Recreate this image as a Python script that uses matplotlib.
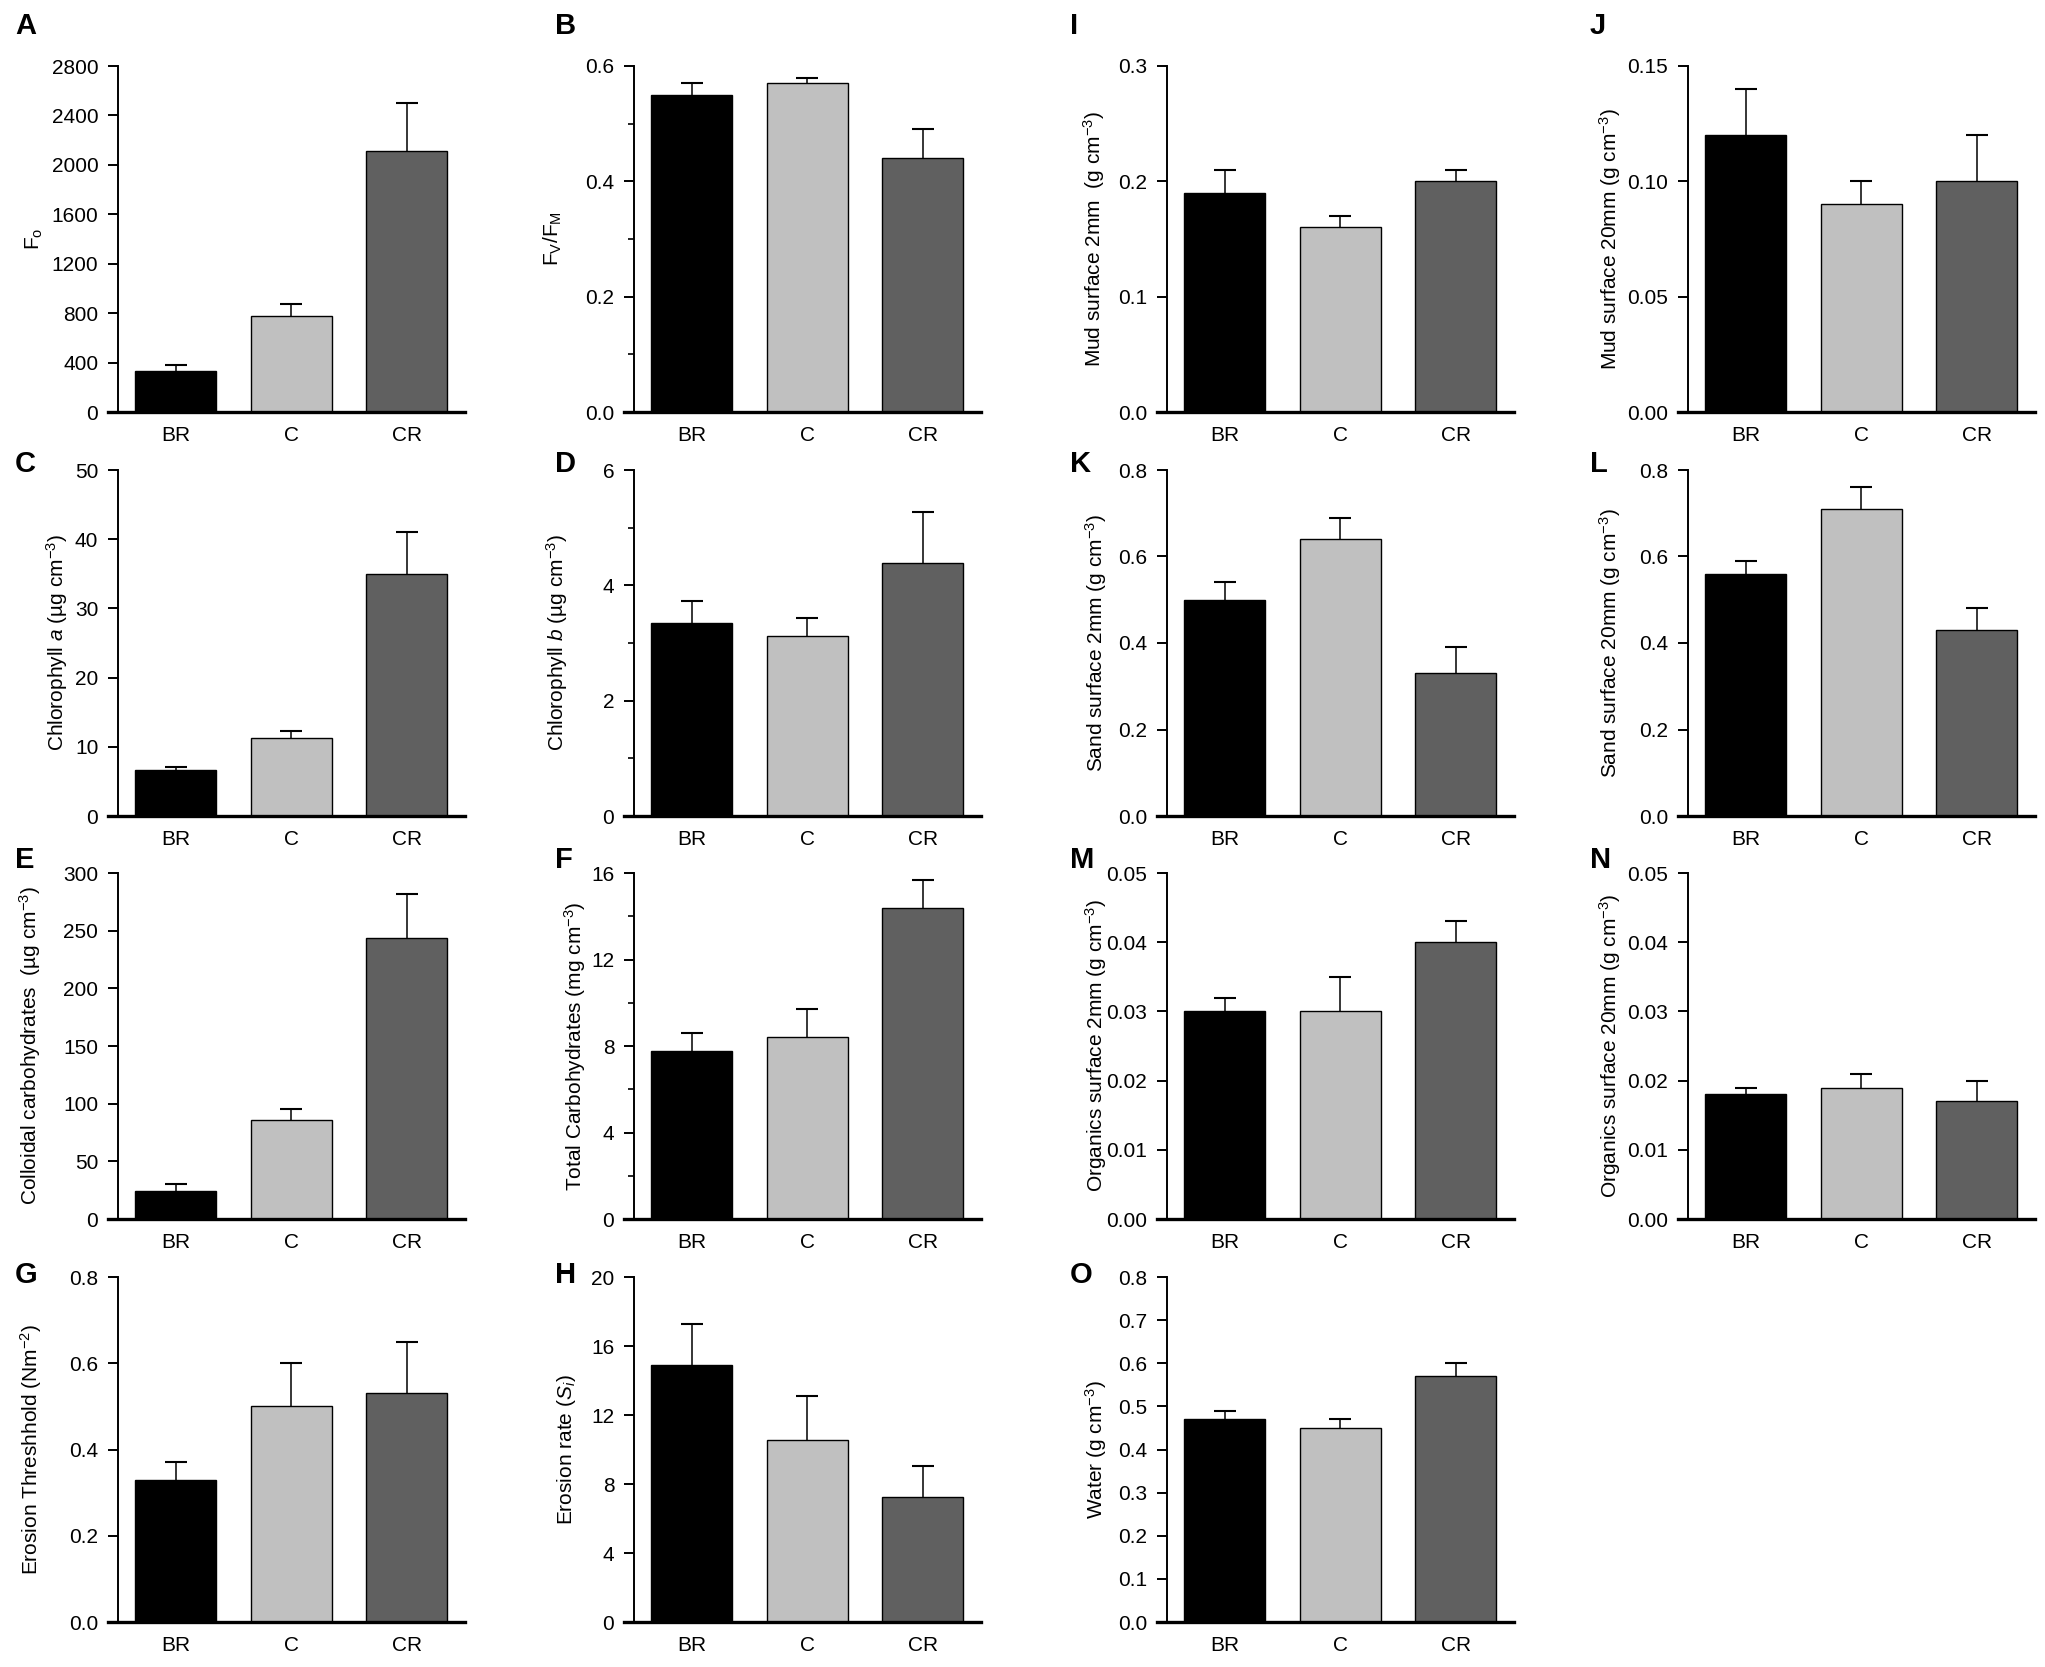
import matplotlib
matplotlib.use("Agg")
import matplotlib.pyplot as plt
import numpy as np
from matplotlib.ticker import MultipleLocator, FormatStrFormatter

plt.rcParams['font.family'] = ['Liberation Sans', 'DejaVu Sans']
plt.rcParams['mathtext.fontset'] = 'custom'
plt.rcParams['mathtext.rm'] = 'Liberation Sans'
plt.rcParams['mathtext.it'] = 'Liberation Sans:italic'
plt.rcParams['mathtext.bf'] = 'Liberation Sans:bold'

categories = ["BR", "C", "CR"]
bar_colors = ["#000000", "#c0c0c0", "#606060"]

# mean values and upper error-bar tops (mean + SE)
A_mean = [330, 780, 2110];      A_top = [380, 870, 2500]
B_mean = [0.55, 0.57, 0.44];    B_top = [0.57, 0.58, 0.49]
C_mean = [6.6, 11.3, 35.0];     C_top = [7.1, 12.3, 41.1]
D_mean = [3.34, 3.12, 4.38];    D_top = [3.73, 3.43, 5.27]
E_mean = [24.5, 86, 244];       E_top = [30.5, 95.5, 282]
F_mean = [7.75, 8.42, 14.37];   F_top = [8.61, 9.71, 15.69]
G_mean = [0.33, 0.50, 0.53];    G_top = [0.37, 0.60, 0.65]
H_mean = [14.92, 10.55, 7.25];  H_top = [17.29, 13.12, 9.04]
I_mean = [0.19, 0.16, 0.20];    I_top = [0.21, 0.17, 0.21]
J_mean = [0.12, 0.09, 0.10];    J_top = [0.14, 0.10, 0.12]
K_mean = [0.50, 0.64, 0.33];    K_top = [0.54, 0.69, 0.39]
L_mean = [0.56, 0.71, 0.43];    L_top = [0.59, 0.76, 0.48]
M_mean = [0.030, 0.030, 0.040]; M_top = [0.032, 0.035, 0.043]
N_mean = [0.018, 0.019, 0.017]; N_top = [0.019, 0.021, 0.020]
O_mean = [0.47, 0.45, 0.57];    O_top = [0.49, 0.47, 0.60]

ylabels = {
    "A": r"$\mathregular{F_o}$",
    "B": r"$\mathregular{F_V/F_M}$",
    "C": r"Chlorophyll $\mathit{a}$ (µg cm$^{-3}$)",
    "D": r"Chlorophyll $\mathit{b}$ (µg cm$^{-3}$)",
    "E": r"Colloidal carbohydrates  (µg cm$^{-3}$)",
    "F": r"Total Carbohydrates (mg cm$^{-3}$)",
    "G": r"Erosion Threshhold (Nm$^{-2}$)",
    "H": r"Erosion rate ($\mathit{S_i}$)",
    "I": r"Mud surface 2mm  (g cm$^{-3}$)",
    "J": r"Mud surface 20mm (g cm$^{-3}$)",
    "K": r"Sand surface 2mm (g cm$^{-3}$)",
    "L": r"Sand surface 20mm (g cm$^{-3}$)",
    "M": r"Organics surface 2mm (g cm$^{-3}$)",
    "N": r"Organics surface 20mm (g cm$^{-3}$)",
    "O": r"Water (g cm$^{-3}$)",
}

# ymax, major step, minor step (None), tick format
yaxes = {
    "A": (2800, 400, None, "%d"),
    "B": (0.6, 0.2, 0.1, "%.1f"),
    "C": (50, 10, None, "%d"),
    "D": (6, 2, 1, "%d"),
    "E": (300, 50, None, "%d"),
    "F": (16, 4, 2, "%d"),
    "G": (0.8, 0.2, None, "%.1f"),
    "H": (20, 4, None, "%d"),
    "I": (0.3, 0.1, None, "%.1f"),
    "J": (0.15, 0.05, None, "%.2f"),
    "K": (0.8, 0.2, None, "%.1f"),
    "L": (0.8, 0.2, None, "%.1f"),
    "M": (0.05, 0.01, None, "%.2f"),
    "N": (0.05, 0.01, None, "%.2f"),
    "O": (0.8, 0.1, None, "%.1f"),
}

data = {
    "A": (A_mean, A_top), "B": (B_mean, B_top), "C": (C_mean, C_top),
    "D": (D_mean, D_top), "E": (E_mean, E_top), "F": (F_mean, F_top),
    "G": (G_mean, G_top), "H": (H_mean, H_top), "I": (I_mean, I_top),
    "J": (J_mean, J_top), "K": (K_mean, K_top), "L": (L_mean, L_top),
    "M": (M_mean, M_top), "N": (N_mean, N_top), "O": (O_mean, O_top),
}

# layout in pixels
W, H = 2045, 1667
col_spine = [118, 634, 1167, 1688]
row_tb = [(66, 412), (470, 816), (873, 1219), (1277, 1622)]
layout = [["A", "B", "I", "J"],
          ["C", "D", "K", "L"],
          ["E", "F", "M", "N"],
          ["G", "H", "O", None]]
unit = 115.5
xlo, xhi = -0.584, 2.5
ax_w = (xhi - xlo) * unit

label_x = {"A": 34, "B": 553, "C": 57, "D": 557, "E": 30, "F": 575, "G": 31,
           "H": 567, "I": 1094, "J": 1610, "K": 1096, "L": 1610, "M": 1096,
           "N": 1610, "O": 1096}
letter_x = [15, 555, 1070, 1590]
letter_base = [34, 472, 868, 1283]

fig = plt.figure(figsize=(W / 100, H / 100), dpi=100)

for r, row in enumerate(layout):
    for c, key in enumerate(row):
        if key is None:
            continue
        top, bot = row_tb[r]
        left_px = col_spine[c] - (-0.5 - xlo) * unit
        ax = fig.add_axes([left_px / W, 1 - bot / H, ax_w / W, (bot - top) / H])
        mean, topv = data[key]
        mean = np.array(mean, float)
        err = np.array(topv, float) - mean
        x = np.arange(len(categories))
        ax.bar(x, mean, width=0.7, color=bar_colors, edgecolor="black",
               linewidth=1.0, zorder=2)
        _, caps, _ = ax.errorbar(x, mean, yerr=[np.zeros_like(err), err], fmt="none",
                                 ecolor="black", elinewidth=1.1, capsize=8,
                                 capthick=1.5, zorder=3)
        caps[0].set_visible(False)
        ymax, step, mstep, fmt = yaxes[key]
        ax.set_ylim(0, ymax)
        ax.set_xlim(xlo, xhi)
        ax.yaxis.set_major_locator(MultipleLocator(step))
        ax.yaxis.set_major_formatter(FormatStrFormatter(fmt))
        if mstep is not None:
            ax.yaxis.set_minor_locator(MultipleLocator(mstep))
        ax.set_xticks(x)
        ax.set_xticklabels(categories)
        ax.spines["top"].set_visible(False)
        ax.spines["right"].set_visible(False)
        ax.spines["left"].set_position(("data", -0.5))
        ax.spines["left"].set_linewidth(1.4)
        ax.spines["bottom"].set_linewidth(2.4)
        ax.spines["bottom"].set_zorder(4)
        ax.tick_params(axis="y", which="major", direction="out", length=7.2,
                       width=1.4, pad=7, labelsize=15)
        ax.tick_params(axis="y", which="minor", direction="out", length=4.5,
                       width=1.2)
        ax.tick_params(axis="x", length=0, pad=10, labelsize=15)
        ax.patch.set_visible(False)
        fig.text(label_x[key] / W, 1 - (top + bot) / 2 / H, ylabels[key],
                 rotation=90, ha="center", va="center", fontsize=15)
        fig.text(letter_x[c] / W, 1 - letter_base[r] / H, key, fontsize=21,
                 fontweight="bold", ha="left", va="baseline")

fig.savefig("out.png", dpi=100)
